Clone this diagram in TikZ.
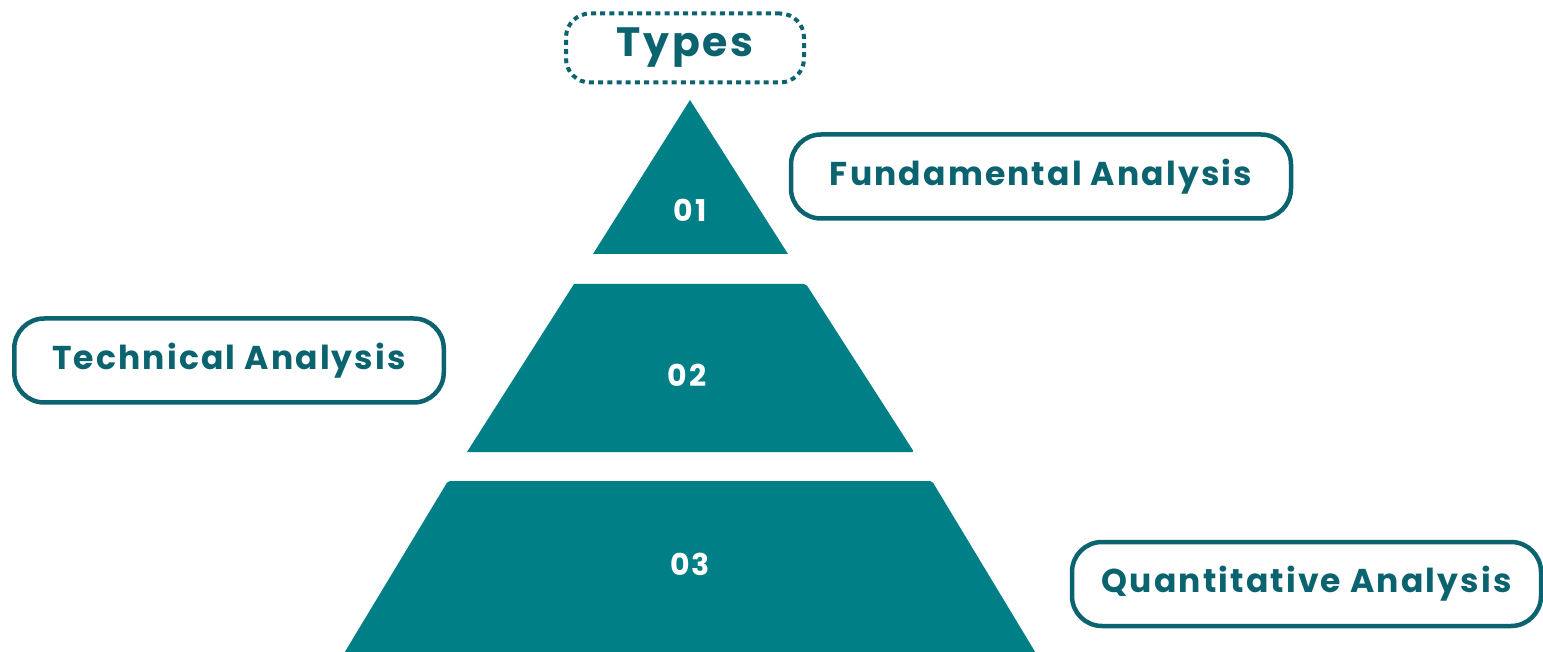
\documentclass[tikz,border=0pt]{standalone}
\usepackage{fontspec}
\setmainfont{Poppins}[LetterSpace=6.5]
\definecolor{tealfill}{HTML}{007F86}
\definecolor{tealdark}{HTML}{0C6370}
\begin{document}
\begin{tikzpicture}[x=1pt,y=-1pt,
  labelbox/.style={draw=tealdark, line width=4.5pt, rounded corners=30pt, fill=white,
    inner sep=0pt, minimum height=84pt, text=tealdark,
    font=\fontsize{33}{39}\selectfont\bfseries},
  typesbox/.style={draw=tealdark, line width=4pt, dash pattern=on 5pt off 4.2pt,
    rounded corners=24pt, inner sep=0pt, minimum width=238pt, minimum height=69pt,
    text=tealdark, font=\fontsize{41}{48}\selectfont\bfseries},
  num/.style={text=white, font=\fontsize{30}{36}\selectfont\bfseries},
  tier/.style={fill=tealfill, rounded corners=2pt}]
\useasboundingbox (0,0) rectangle (1543,652);
% types
\node[typesbox] (types) at (685,48) {Types};
% pyramid
\fill[tealfill] (690,100) -- (788,254) -- (593,254) -- cycle;
\path[tier] (574,284) -- (806,284) -- (914,452) [sharp corners] -- (467,452) -- cycle;
\path[tier] (448,481) -- (932,481) -- (1040,660) -- (340,660) -- cycle;
\node[num] (n1) at (690,210) {01};
\node[num] (n2) at (687,375) {02};
\node[num] (n3) at (690,564) {03};
% labels
\node[labelbox, minimum width=500pt] (fund) at (1041,176.5) {Fundamental Analysis};
\node[labelbox, minimum width=429.5pt] (tech) at (229,360.5) {Technical Analysis};
\node[labelbox, minimum width=469pt] (quant) at (1306.5,584) {Quantitative Analysis};
\end{tikzpicture}
\end{document}
